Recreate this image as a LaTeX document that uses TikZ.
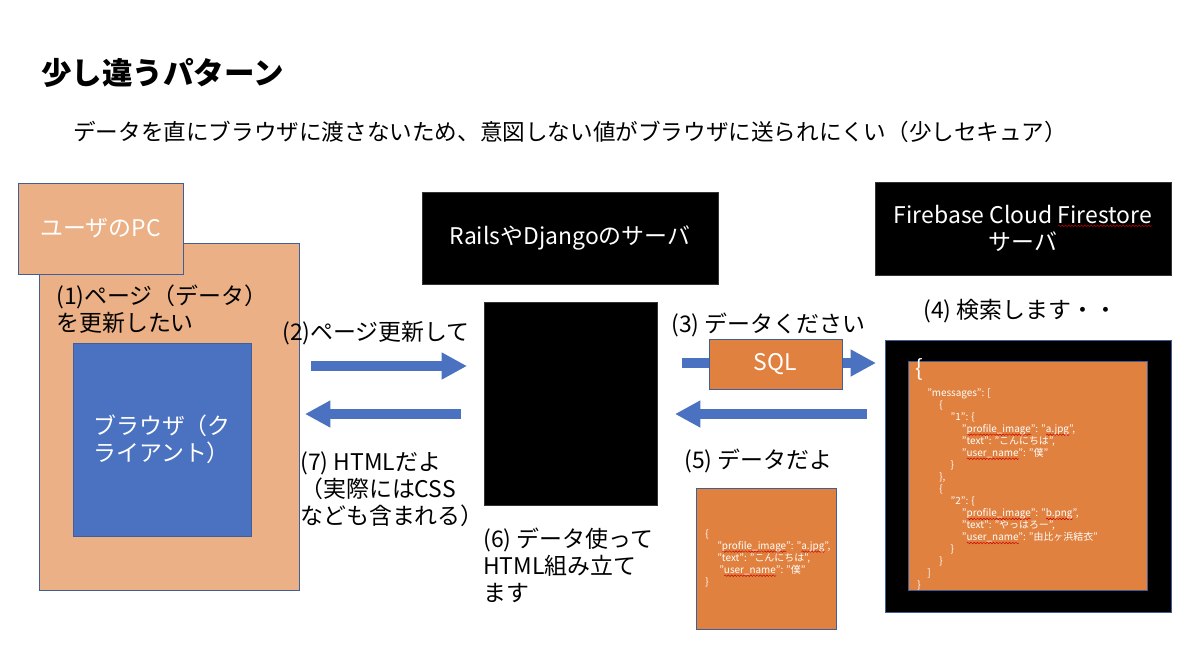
\documentclass[tikz,border=0pt]{standalone}
\usepackage{fontspec}
\usepackage{tikz}
\usetikzlibrary{arrows.meta,decorations.pathmorphing}
\setmainfont{Noto Sans CJK JP}
\definecolor{peach}{HTML}{EBB085}
\definecolor{slideorange}{HTML}{E0813F}
\definecolor{slideblue}{HTML}{4A72C0}
\definecolor{edgeblue}{HTML}{3F5F9A}
\newcommand{\spell}[1]{\setbox0\hbox{#1}\rlap{\tikz[baseline=0pt]\draw[red!80!black,line width=.35pt,decorate,decoration={snake,segment length=2.4pt,amplitude=.6pt}] (0pt,-1.8pt) -- (\wd0,-1.8pt);}#1}
\newcommand{\ind}[1]{\hspace*{#1pt}}
\tikzset{
  box/.style={draw=edgeblue,line width=.65pt,inner sep=0pt},
  blackbox/.style={draw=black!80,fill=black,text=white,inner sep=0pt,align=center,font=\fontsize{17.2}{20.5}\selectfont},
  orangebox/.style={box,fill=slideorange,text=white},
  peachbox/.style={box,fill=peach,text=white},
  label/.style={anchor=north west,inner sep=0pt,align=left,font=\fontsize{17.2}{20.25}\selectfont},
  json/.style={anchor=north west,inner sep=0pt,align=left,text=white,font=\fontsize{7.45}{9.03}\selectfont},
  blockarrow/.style={draw=slideblue,line width=7.5pt,-{Triangle[length=19pt,width=19pt]}}
}
\begin{document}
\begin{tikzpicture}[x=.75pt,y=-.75pt]
  \useasboundingbox (0,0) rectangle (1200,668);
  \node[anchor=west,inner sep=0pt,font=\fontsize{22.9}{27}\selectfont\bfseries] (title) at (41,73) {少し違うパターン};
  \node[anchor=west,inner sep=0pt,font=\fontsize{16.95}{20}\selectfont] (subtitle) at (73,132) {データを直にブラウザに渡さないため、意図しない値がブラウザに送られにくい（少しセキュア）};

  \node[peachbox,minimum width=195pt,minimum height=260.25pt] (pcbox) at (169,416.5) {};
  \node[peachbox,minimum width=123.75pt,minimum height=68.25pt,font=\fontsize{17.2}{20.5}\selectfont] (userbox) at (100.5,228.5) {ユーザのPC};
  \node[box,fill=slideblue,text=white,minimum width=133.5pt,minimum height=144.75pt,align=left,font=\fontsize{17.2}{20.25}\selectfont] (browser) at (162,439.5) {ブラウザ（ク\\ライアント）};
  \node[blackbox,minimum width=222pt,minimum height=69pt] (rails) at (570,238) {RailsやDjangoのサーバ};
  \node[blackbox,minimum width=129.75pt,minimum height=152.25pt] (server) at (570.5,403.5) {};
  \node[blackbox,minimum width=222pt,minimum height=69.75pt] (firebase) at (1023,228.5) {Firebase Cloud \spell{Firestore}\\サーバ};
  \node[box,fill=black,minimum width=214.5pt,minimum height=204pt] (jsonback) at (1028,476) {};
  \node[orangebox,minimum width=179.25pt,minimum height=171.75pt] (jsonpage) at (1027.5,475.5) {};
  \node[orangebox,minimum width=105pt,minimum height=105.75pt] (smalljson) at (766,558.5) {};

  % arrows
  \coordinate (a2s) at (311,366);
  \coordinate (a2e) at (467,366);
  \coordinate (a3s) at (682,363);
  \coordinate (a3e) at (876,363);
  \coordinate (a5s) at (867,414);
  \coordinate (a5e) at (675,414);
  \coordinate (a7s) at (461,414);
  \coordinate (a7e) at (305,414);
  \draw[blockarrow] (a2s) -- (a2e);
  \draw[blockarrow] (a3s) -- (a3e);
  \draw[blockarrow] (a5s) -- (a5e);
  \draw[blockarrow] (a7s) -- (a7e);
  \node[orangebox,minimum width=99.75pt,minimum height=37.5pt,font=\fontsize{17.2}{20.5}\selectfont] (sql) at (775.5,364) {SQL};

  % labels
  \node[label] (step1) at (56,285) {(1)ページ（データ）\\を更新したい};
  \node[label] (step2) at (282,321) {(2)ページ更新して};
  \node[label] (step3) at (671,313) {(3) データください};
  \node[label] (step4) at (923,299) {(4) 検索します・・};
  \node[label] (step5) at (684,449) {(5) データだよ};
  \node[label] (step6) at (483,528) {(6) データ使って\\HTML組み立て\\ます};
  \node[label] (step7) at (300,451) {(7) HTMLだよ\\（実際にはCSS\\なども含まれる）};

  % json text
  \node[anchor=west,inner sep=0pt,text=white,font=\fontsize{17}{20}\selectfont] (bigbrace) at (915,369) {\{};
  \node[json] (jsontext) at (917,388) {%
    \ind{7.5}"messages": [\\
    \ind{16.5}\{\\
    \ind{25}"1": \{\\
    \ind{33.5}"\spell{profile\_image}": "\spell{a.jpg}",\\
    \ind{33.5}"text": "こんにちは",\\
    \ind{33.5}"\spell{user\_name}": "僕"\\
    \ind{25}\}\\
    \ind{16.5}\},\\
    \ind{16.5}\{\\
    \ind{25}"2": \{\\
    \ind{33.5}"\spell{profile\_image}": "\spell{b.png}",\\
    \ind{33.5}"text": "やっはろー",\\
    \ind{33.5}"\spell{user\_name}": "由比ヶ浜結衣"\\
    \ind{25}\}\\
    \ind{16.5}\}\\
    \ind{7.5}]\\
    \}};
  \node[json] (smalltext) at (705,529) {%
    \{\\
    \ind{9}"\spell{profile\_image}": "\spell{a.jpg}",\\
    \ind{9}"text": "こんにちは",\\
    \ind{10.5}"\spell{user\_name}": "僕"\\
    \}};
\end{tikzpicture}
\end{document}
